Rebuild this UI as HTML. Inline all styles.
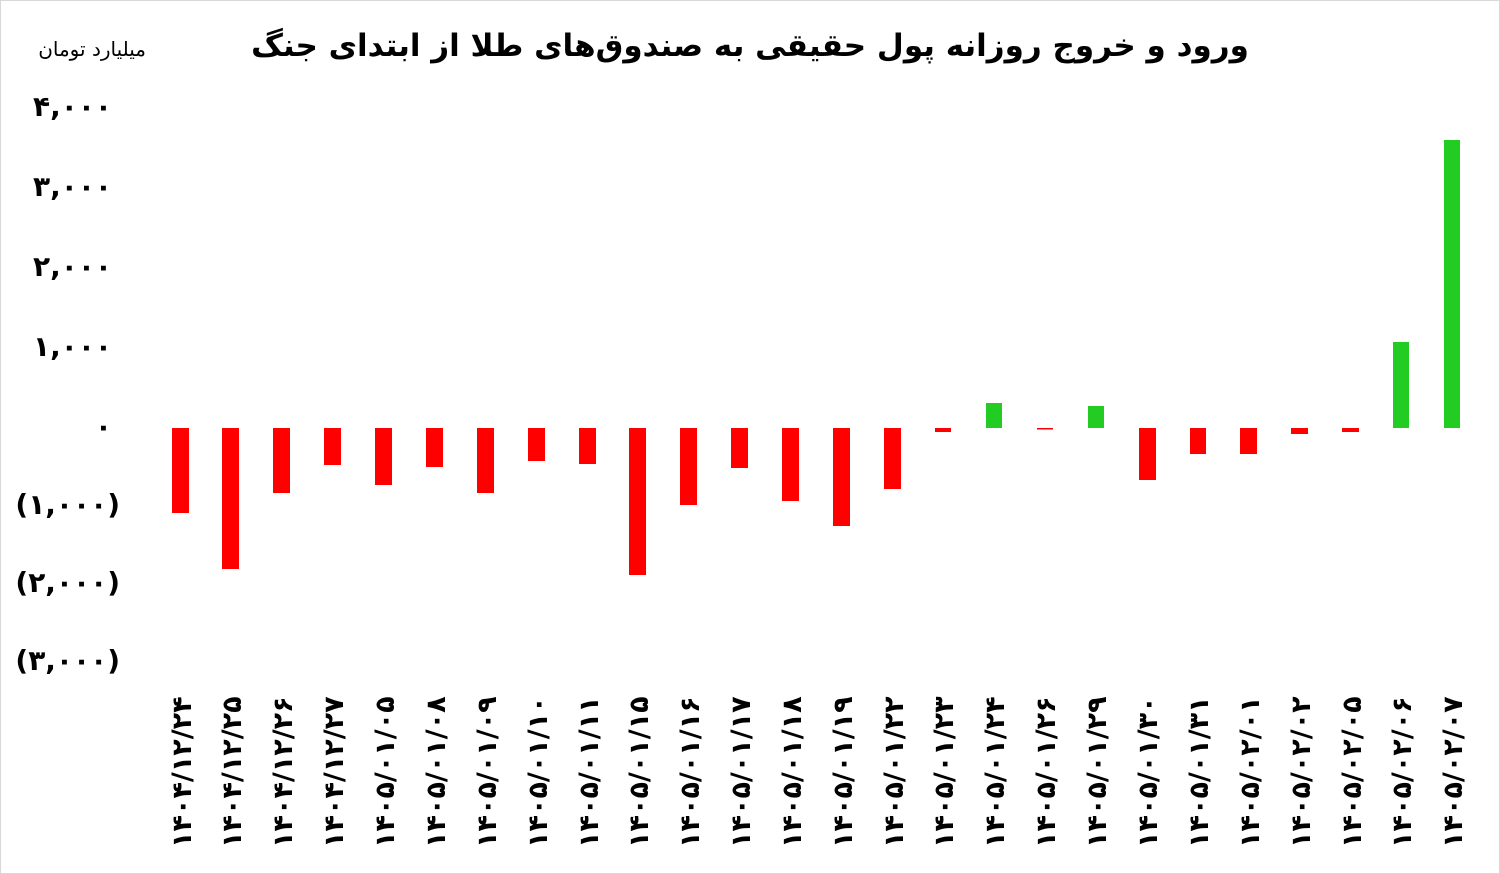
<!DOCTYPE html>
<html><head><meta charset="utf-8"><style>
html,body{margin:0;padding:0;background:#fff;}
svg{display:block;font-family:"DejaVu Sans","Liberation Sans",sans-serif;}
</style></head><body>
<svg width="1500" height="874" xmlns="http://www.w3.org/2000/svg">
<rect x="0.5" y="0.5" width="1499" height="873" fill="#fff" stroke="#d8d8d8"/>
<text x="750" y="56" text-anchor="middle" font-size="31" font-weight="bold" direction="rtl">ورود و خروج روزانه پول حقیقی به صندوق‌های طلا از ابتدای جنگ</text>
<text x="146" y="56" text-anchor="start" font-size="20" direction="rtl">میلیارد تومان</text>
<g font-size="28" font-weight="bold" text-anchor="end" direction="ltr">
<text x="112" y="116">۴,۰۰۰</text>
<text x="112" y="196">۳,۰۰۰</text>
<text x="112" y="276">۲,۰۰۰</text>
<text x="112" y="356">۱,۰۰۰</text>
<text x="112" y="436">۰</text>
<text x="120" y="514">(۱,۰۰۰)</text>
<text x="120" y="592">(۲,۰۰۰)</text>
<text x="120" y="670">(۳,۰۰۰)</text>
</g>
<g fill="#ff0000">
<rect x="172" y="428" width="17" height="85"/>
<rect x="222" y="428" width="17" height="141"/>
<rect x="273" y="428" width="17" height="65"/>
<rect x="324" y="428" width="17" height="37"/>
<rect x="375" y="428" width="17" height="57"/>
<rect x="426" y="428" width="17" height="39"/>
<rect x="477" y="428" width="17" height="65"/>
<rect x="528" y="428" width="17" height="33"/>
<rect x="579" y="428" width="17" height="36"/>
<rect x="629" y="428" width="17" height="147"/>
<rect x="680" y="428" width="17" height="77"/>
<rect x="731" y="428" width="17" height="40"/>
<rect x="782" y="428" width="17" height="73"/>
<rect x="833" y="428" width="17" height="98"/>
<rect x="884" y="428" width="17" height="61"/>
<rect x="935" y="428" width="16" height="4"/>
<rect x="1037" y="428" width="16" height="1.5"/>
<rect x="1139" y="428" width="17" height="52"/>
<rect x="1190" y="428" width="16" height="26"/>
<rect x="1240" y="428" width="17" height="26"/>
<rect x="1291" y="428" width="17" height="6"/>
<rect x="1342" y="428" width="17" height="4"/>
</g>
<g fill="#22cc22">
<rect x="986" y="403" width="16" height="25"/>
<rect x="1088" y="406" width="16" height="22"/>
<rect x="1393" y="342" width="16" height="86"/>
<rect x="1444" y="140" width="16" height="288"/>
</g>
<g font-size="27" font-weight="bold" direction="ltr">
<text transform="translate(191,848) rotate(-90)">۱۴۰۴/۱۲/۲۴</text>
<text transform="translate(241,848) rotate(-90)">۱۴۰۴/۱۲/۲۵</text>
<text transform="translate(292,848) rotate(-90)">۱۴۰۴/۱۲/۲۶</text>
<text transform="translate(343,848) rotate(-90)">۱۴۰۴/۱۲/۲۷</text>
<text transform="translate(394,848) rotate(-90)">۱۴۰۵/۰۱/۰۵</text>
<text transform="translate(445,848) rotate(-90)">۱۴۰۵/۰۱/۰۸</text>
<text transform="translate(496,848) rotate(-90)">۱۴۰۵/۰۱/۰۹</text>
<text transform="translate(547,848) rotate(-90)">۱۴۰۵/۰۱/۱۰</text>
<text transform="translate(598,848) rotate(-90)">۱۴۰۵/۰۱/۱۱</text>
<text transform="translate(648,848) rotate(-90)">۱۴۰۵/۰۱/۱۵</text>
<text transform="translate(699,848) rotate(-90)">۱۴۰۵/۰۱/۱۶</text>
<text transform="translate(750,848) rotate(-90)">۱۴۰۵/۰۱/۱۷</text>
<text transform="translate(801,848) rotate(-90)">۱۴۰۵/۰۱/۱۸</text>
<text transform="translate(852,848) rotate(-90)">۱۴۰۵/۰۱/۱۹</text>
<text transform="translate(903,848) rotate(-90)">۱۴۰۵/۰۱/۲۲</text>
<text transform="translate(953,848) rotate(-90)">۱۴۰۵/۰۱/۲۳</text>
<text transform="translate(1004,848) rotate(-90)">۱۴۰۵/۰۱/۲۴</text>
<text transform="translate(1055,848) rotate(-90)">۱۴۰۵/۰۱/۲۶</text>
<text transform="translate(1106,848) rotate(-90)">۱۴۰۵/۰۱/۲۹</text>
<text transform="translate(1157,848) rotate(-90)">۱۴۰۵/۰۱/۳۰</text>
<text transform="translate(1208,848) rotate(-90)">۱۴۰۵/۰۱/۳۱</text>
<text transform="translate(1259,848) rotate(-90)">۱۴۰۵/۰۲/۰۱</text>
<text transform="translate(1310,848) rotate(-90)">۱۴۰۵/۰۲/۰۲</text>
<text transform="translate(1361,848) rotate(-90)">۱۴۰۵/۰۲/۰۵</text>
<text transform="translate(1411,848) rotate(-90)">۱۴۰۵/۰۲/۰۶</text>
<text transform="translate(1462,848) rotate(-90)">۱۴۰۵/۰۲/۰۷</text>
</g>
</svg>
</body></html>
